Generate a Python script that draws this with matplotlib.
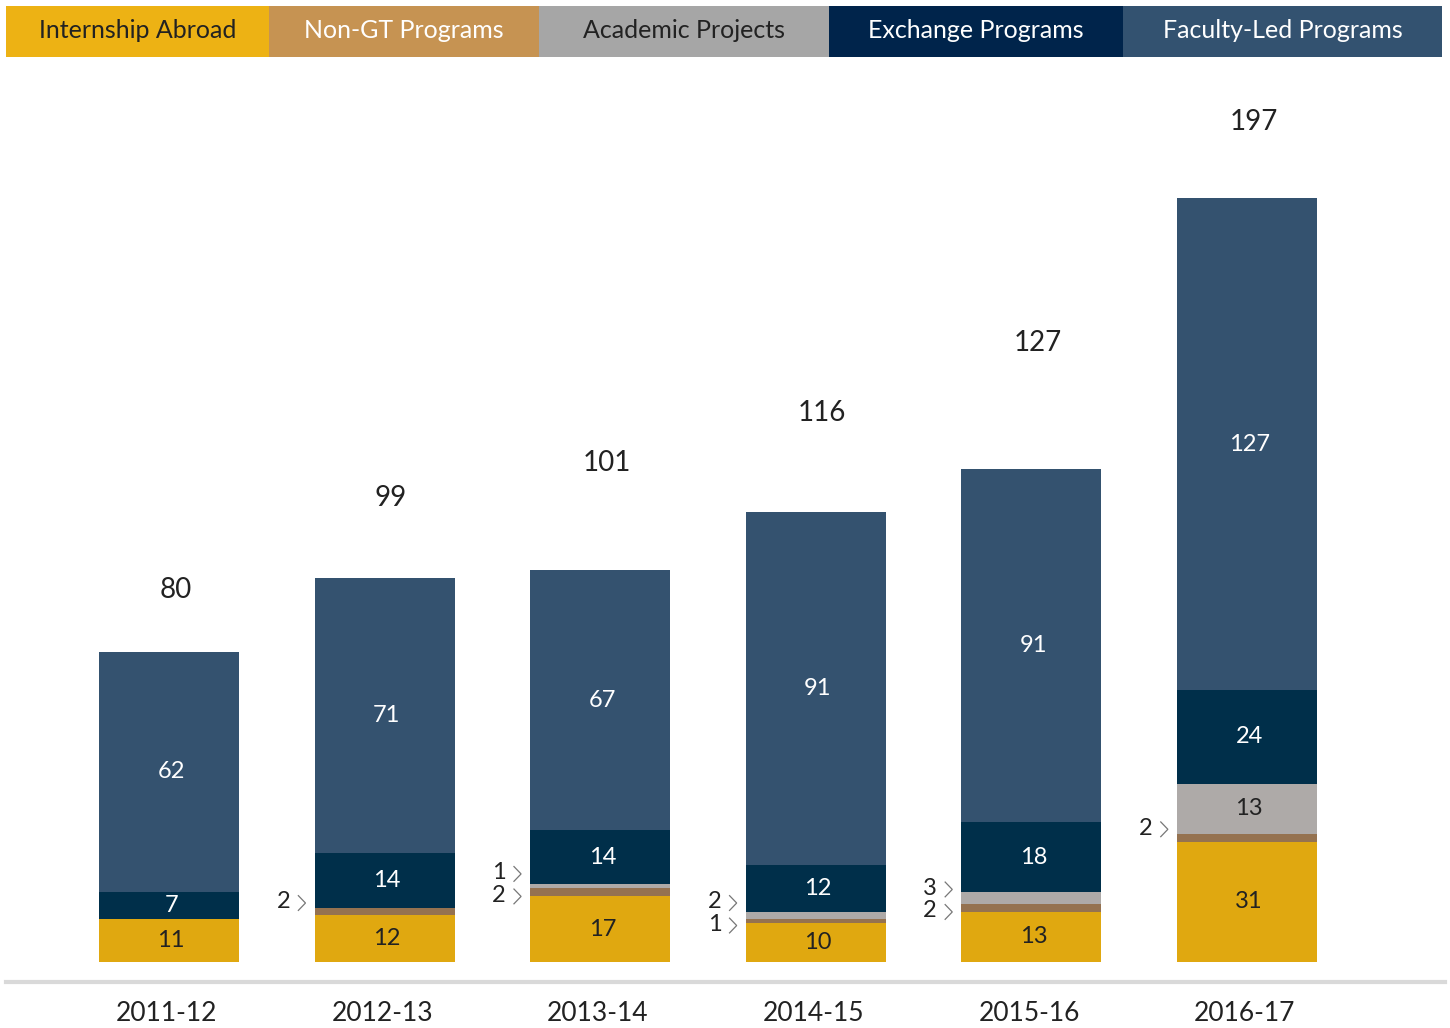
import matplotlib.pyplot as plt
import numpy as np

plt.rcParams['font.family'] = ['Lato', 'DejaVu Sans']

years = ['2011-12', '2012-13', '2013-14', '2014-15', '2015-16', '2016-17']
internship = [11, 12, 17, 10, 13, 31]
non_gt = [0, 2, 2, 1, 2, 2]
academic = [0, 0, 1, 2, 3, 13]
exchange = [7, 14, 14, 12, 18, 24]
faculty = [62, 71, 67, 91, 91, 127]

series_names = ['Internship Abroad', 'Non-GT Programs', 'Academic Projects',
                'Exchange Programs', 'Faculty-Led Programs']
series = [internship, non_gt, academic, exchange, faculty]

bar_colors = ['#E0A810', '#957250', '#AEAAA8', '#002F4A', '#34526F']
legend_colors = ['#EDB214', '#C69352', '#A6A6A6', '#00244B', '#335270']
legend_text = ['#222222', 'white', '#222222', 'white', 'white']
inside_text = ['#222222', 'white', '#222222', 'white', 'white']

# extra lift of the total labels above each bar (in data units)
total_lift = [16, 20.5, 27.5, 25.5, 32.5, 19.5]

W, H = 1450, 1028
fig = plt.figure(figsize=(W / 100, H / 100), dpi=100)
ax = fig.add_axes([0, 0, 1, 1])
px = 215.6  # pixels between bars
ax.set_xlim(-169 / px, (W - 169) / px)
ax.set_ylim(-(H - 962) / 3.88, 962 / 3.88)
ax.axis('off')

x = np.arange(len(years))
bottom = np.zeros(len(years))
for k, vals in enumerate(series):
    vals = np.array(vals, dtype=float)
    ax.bar(x, vals, 0.65, bottom=bottom, color=bar_colors[k], linewidth=0)
    for i, v in enumerate(vals):
        if v >= 5:
            ax.text(x[i] + 0.01, bottom[i] + v / 2, f'{int(v)}', ha='center', va='center',
                    fontsize=17, color=inside_text[k])
    bottom += vals

totals = bottom
for i, t in enumerate(totals):
    ax.text(x[i] + 0.03, t + total_lift[i], f'{int(t)}', ha='center', va='center',
            fontsize=20, color='#222222')


def small_label(i, y, v):
    left = x[i] - 0.325
    ax.text(left - 0.145, y, f'{v}', ha='center', va='center', fontsize=17, color='#222222')
    ax.plot([left - 0.075, left - 0.042, left - 0.075], [y + 1.6, y - 0.3, y - 2.2],
            color='#777777', lw=0.9, solid_joinstyle='miter')


# small segments get a label outside the bar with a chevron
for i in range(len(years)):
    small = [k for k in (1, 2) if 0 < series[k][i] < 5]
    if not small:
        continue
    base = internship[i] + non_gt[i] / 2
    if len(small) == 2:
        small_label(i, base - 0.8, non_gt[i])
        small_label(i, base + 5.0, academic[i])
    else:
        small_label(i, base + 2.5, series[small[0]][i])

for i, yr in enumerate(years):
    ax.text(x[i] - 0.01, -13.2, yr, ha='center', va='center', fontsize=19, color='#222222')

# baseline
fig.add_artist(plt.Line2D([6 / W, 1445 / W], [1 - 982 / H, 1 - 982 / H],
                          color='#D9D9D9', lw=3))

# legend strip along the top
edges = [6, 269, 539, 829, 1123, 1442]
for k, name in enumerate(series_names):
    x0, x1 = edges[k] / W, edges[k + 1] / W
    fig.add_artist(plt.Rectangle((x0, 1 - 57 / H), x1 - x0, 51 / H,
                                 color=legend_colors[k], transform=fig.transFigure, lw=0))
    fig.text((x0 + x1) / 2, 1 - 31 / H, name, ha='center', va='center',
             fontsize=18, color=legend_text[k])

fig.savefig('out.png', dpi=100)
